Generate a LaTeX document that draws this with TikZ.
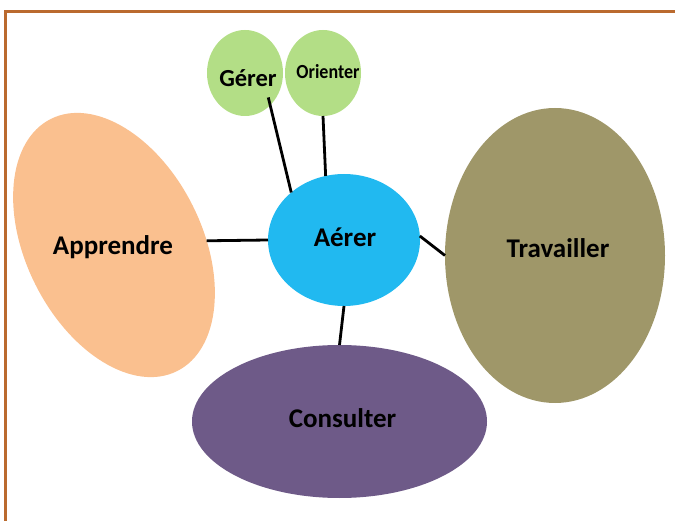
\documentclass[tikz,border=0pt]{standalone}
\usepackage{fontspec}
\setmainfont{Carlito}
\usetikzlibrary{shapes.geometric}
\definecolor{frameC}{HTML}{BA6A2E}
\definecolor{greenC}{HTML}{B3DE86}
\definecolor{blueC}{HTML}{21B9F0}
\definecolor{orangeC}{HTML}{FAC08F}
\definecolor{oliveC}{HTML}{9F9769}
\definecolor{purpleC}{HTML}{6E5A88}
\tikzset{
  blob/.style={ellipse, inner sep=0pt, outer sep=0pt, draw=none},
  txt/.style={font=\bfseries\fontsize{27}{30}\selectfont, text=black, inner sep=0pt},
  smalltxt/.style={font=\bfseries\fontsize{24.5}{27}\selectfont, text=black, inner sep=0pt},
  link/.style={draw=black, line width=2.8pt}
}
\begin{document}
\begin{tikzpicture}[x=1pt,y=-1pt]
\useasboundingbox (0,0) rectangle (675,521);
% frame
\draw[frameC, line width=3pt] (675,12) -- (5.5,12) -- (5.5,521);
% shapes
\node[blob, fill=greenC, minimum width=76pt, minimum height=86pt] (gerer) at (245,73) {};
\node[blob, fill=greenC, minimum width=76pt, minimum height=86pt] (orienter) at (323,73) {};
\node[blob, fill=blueC, minimum width=152pt, minimum height=132pt] (aerer) at (344,240) {};
\node[blob, fill=orangeC, minimum width=176pt, minimum height=282pt, rotate=26.6] (apprendre) at (114,245) {};
\node[blob, fill=oliveC, minimum width=220pt, minimum height=295pt] (travailler) at (555,255.5) {};
\node[blob, fill=purpleC, minimum width=295pt, minimum height=153pt] (consulter) at (339.5,421.5) {};
% connectors
\draw[link, shorten <=-8pt] (gerer.-52) -- (aerer.138);
\draw[link] (orienter.-90) -- (aerer.106);
\draw[link] (apprendre.-24) -- (aerer.180);
\draw[link] (aerer.3) -- (travailler.180);
\draw[link] (aerer.-90) -- (consulter.90);
% labels
\node[smalltxt] (tgerer) at (248,78) {Gérer};
\node[inner sep=0pt, text=black] (torienter) at (328,72) {\scalebox{0.9}[1]{\bfseries\fontsize{20}{22}\selectfont Orienter}};
\node[txt] (taerer) at (345,237) {Aérer};
\node[txt] (tapprendre) at (113,247) {Apprendre};
\node[txt] (ttravailler) at (558,248) {Travailler};
\node[txt] (tconsulter) at (342.5,418) {Consulter};
\end{tikzpicture}
\end{document}
